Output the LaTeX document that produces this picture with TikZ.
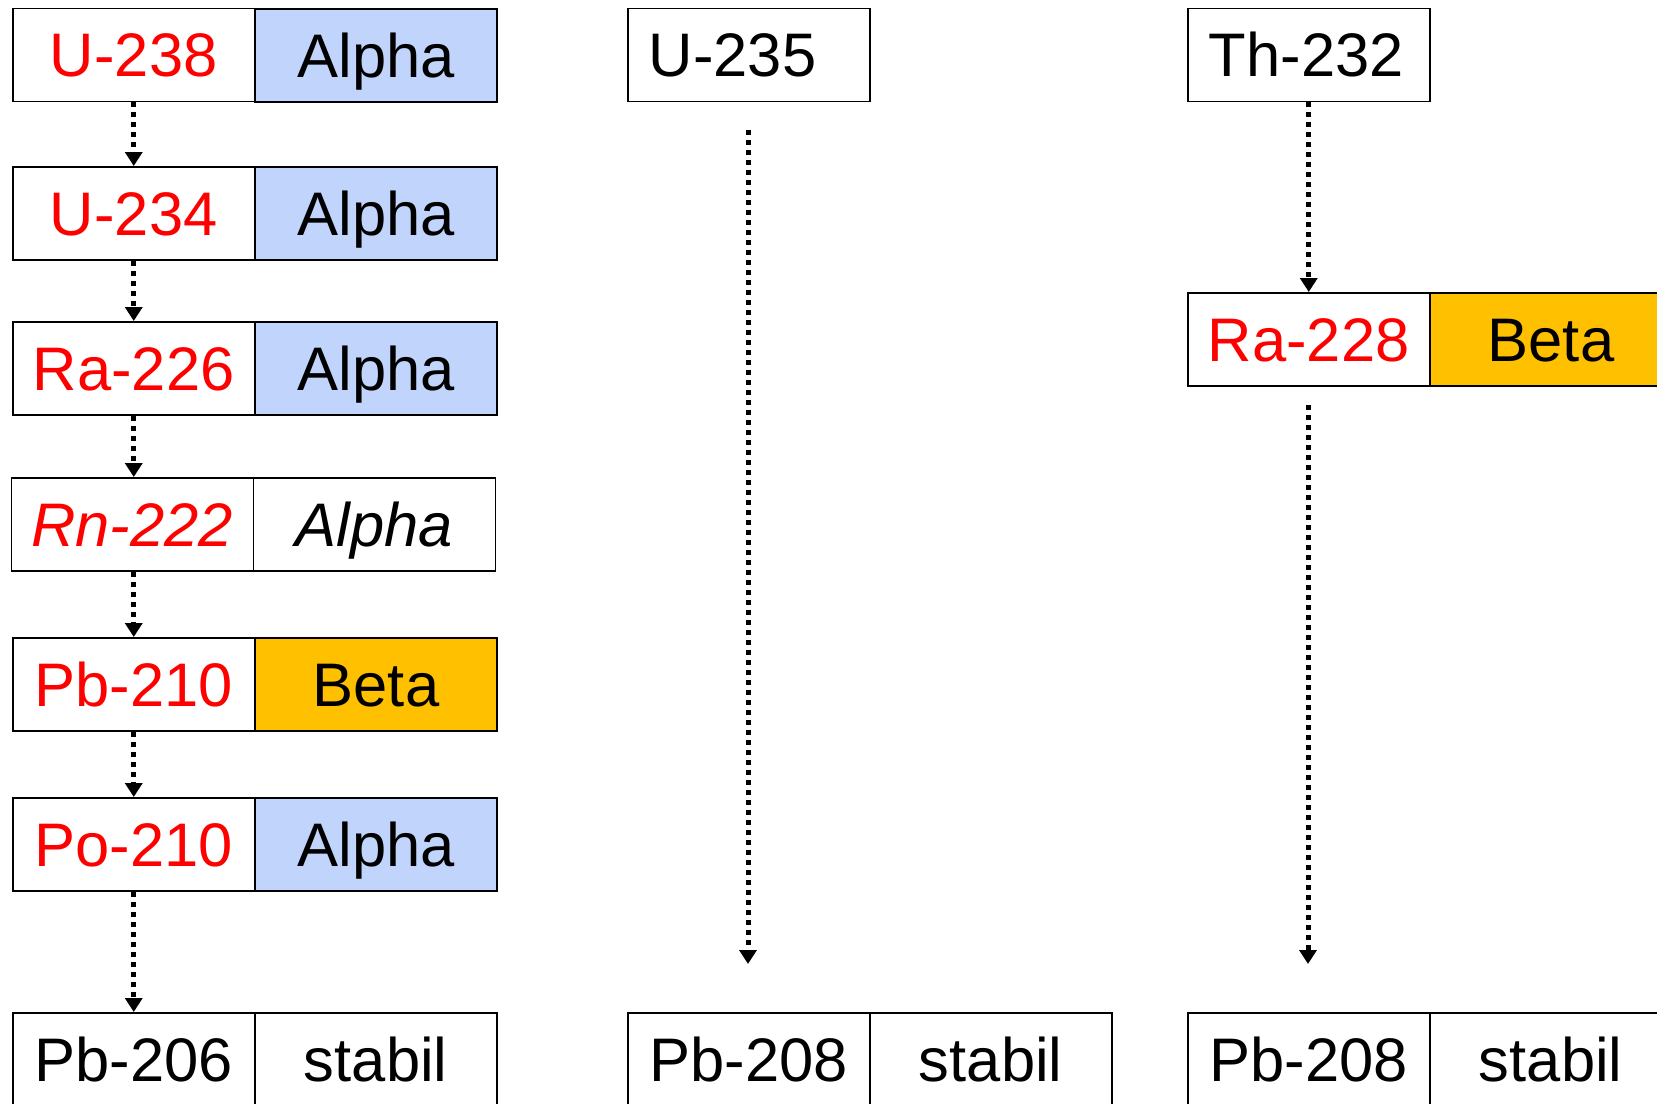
\documentclass[tikz,border=0pt]{standalone}
\usepackage{fontspec}
\setmainfont{Liberation Sans}
\usetikzlibrary{arrows.meta}
\definecolor{alphablue}{RGB}{192,212,252}
\definecolor{betagold}{RGB}{255,192,0}
\definecolor{nucred}{RGB}{255,0,0}
\begin{document}
\begin{tikzpicture}[x=1pt,y=-1pt,
  cell/.style={draw=black, line width=1.5pt, minimum width=242pt, minimum height=93pt,
    inner sep=0pt, text height=44pt, text depth=0pt,
    font=\fontsize{61.5}{70}\selectfont, anchor=north west},
  leftcell/.style={cell, text width=200pt, align=left},
  nuc/.style={cell, text=nucred},
  nucit/.style={cell, text=nucred, font=\fontsize{61.5}{70}\selectfont\itshape},
  decA/.style={cell, fill=alphablue, line width=2pt},
  decB/.style={cell, fill=betagold, line width=2pt},
  plainit/.style={cell, font=\fontsize{61.5}{70}\selectfont\itshape},
  decay/.style={line width=5pt, dash pattern=on 5pt off 5pt,
    -{Triangle[width=17pt,length=14pt]}}]
\clip (0,0) rectangle (1657,1103);
\fill[white] (0,0) rectangle (1657,1103);
% left chain
\node[nuc]  (u238)  at (12,7.5)  {U-238};
\node[decA] (u238d) at (254,7.5) {Alpha};
\node[nuc]  (u234)  at (12,166)  {U-234};
\node[decA] (u234d) at (254,166) {Alpha};
\node[nuc]  (ra226)  at (12,321)  {Ra-226};
\node[decA] (ra226d) at (254,321) {Alpha};
\node[nucit]  (rn222)  at (10.5,477)  {Rn-222};
\node[plainit] (rn222d) at (252.5,477) {Alpha};
\node[nuc]  (pb210)  at (12,637)  {Pb-210};
\node[decB] (pb210d) at (254,637) {Beta};
\node[nuc]  (po210)  at (12,797)  {Po-210};
\node[decA] (po210d) at (254,797) {Alpha};
\node[cell] (pb206)  at (12,1012)  {Pb-206};
\node[cell] (pb206d) at (254,1012) {stabil};
% middle chain
\node[leftcell] (u235) at (627,7.5) {U-235};
\node[cell] (pb208a)  at (627,1012) {Pb-208};
\node[cell] (pb208ad) at (869,1012) {stabil};
% right chain
\node[leftcell] (th232) at (1187,7.5) {Th-232};
\node[nuc]  (ra228)  at (1187,292) {Ra-228};
\node[decB] (ra228d) at (1429,292) {Beta};
\node[cell] (pb208b)  at (1187,1012) {Pb-208};
\node[cell] (pb208bd) at (1429,1012) {stabil};
% connectors
\draw[decay] (u238.south) -- (u234.north);
\draw[decay] (u234.south) -- (ra226.north);
\draw[decay] (ra226.south) -- (ra226.south |- rn222.north);
\draw[decay] (rn222.south -| u238.south) -- (pb210.north);
\draw[decay] (pb210.south) -- (po210.north);
\draw[decay] (po210.south) -- (pb206.north);
\coordinate (mtop) at (748,130);
\coordinate (mbot) at (748,964);
\draw[decay] (mtop) -- (mbot);
\draw[decay] (th232.south) -- (ra228.north);
\coordinate (rtop) at (1308,405);
\coordinate (rbot) at (1308,964);
\draw[decay] (rtop) -- (rbot);
\end{tikzpicture}
\end{document}
